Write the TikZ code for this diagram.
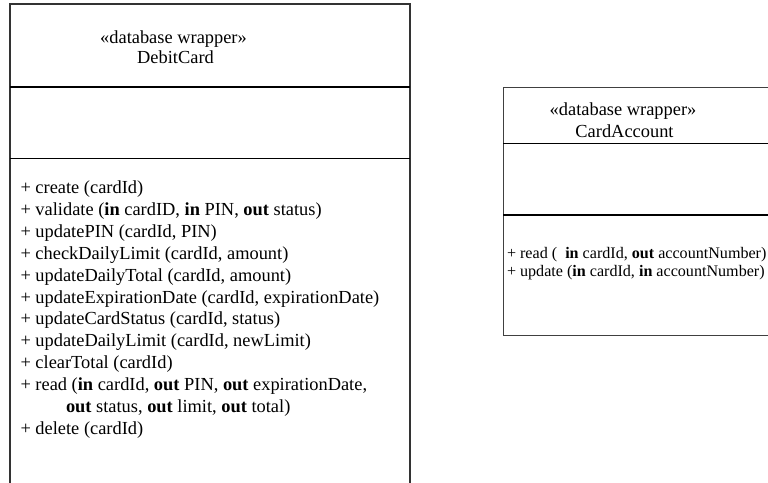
\documentclass[tikz,border=0pt]{standalone}
\usepackage{fontspec}
\setmainfont{Liberation Serif}
\begin{document}
\begin{tikzpicture}[x=1pt,y=-1pt,
  bigtxt/.style={inner sep=0pt, outer sep=0pt, font=\fontsize{18.4}{22}\selectfont},
  optxt/.style={bigtxt, anchor=base west},
  titletxt/.style={bigtxt, anchor=base},
  smallop/.style={inner sep=0pt, outer sep=0pt, anchor=base west, font=\fontsize{16.1}{19}\selectfont},
  border/.style={draw=black!80, line width=1.5pt},
  thinborder/.style={draw=black!75, line width=1pt},
  divider/.style={draw=black, line width=1.8pt},
  thindivider/.style={draw=black, line width=1pt},
  thickdivider/.style={draw=black, line width=2.2pt}]
\useasboundingbox (0,0) rectangle (768,482);
\clip (0,0) rectangle (768,482);
\fill[white] (0,0) rectangle (768,482);

% ---- DebitCard class ----
\draw[border] (10,495) -- (10,4) -- (410,4) -- (410,495);
\draw[divider] (10,87) -- (410,87);
\draw[divider] (10,158.5) -- (410,158.5);

\node[titletxt] (dcstereo) at (173.5,43.3) {«database wrapper»};
\node[titletxt] (dcname) at (175.5,63.3) {DebitCard};

\node[optxt] (op1) at (20.5,193.5) {+ create (cardId)};
\node[optxt] (op2) at (20.5,215.4) {+ validate (\textbf{in} cardID, \textbf{in} PIN, \textbf{out} status)};
\node[optxt] (op3) at (20.5,237.3) {+ updatePIN (cardId, PIN)};
\node[optxt] (op4) at (20.5,259.2) {+ checkDailyLimit (cardId, amount)};
\node[optxt] (op5) at (20.5,281.1) {+ updateDailyTotal (cardId, amount)};
\node[optxt] (op6) at (20.5,303.0) {+ updateExpirationDate (cardId, expirationDate)};
\node[optxt] (op7) at (20.5,324.9) {+ updateCardStatus (cardId, status)};
\node[optxt] (op8) at (20.5,346.8) {+ updateDailyLimit (cardId, newLimit)};
\node[optxt] (op9) at (20.5,368.7) {+ clearTotal (cardId)};
\node[optxt] (op10) at (20.5,390.6) {+ read (\textbf{in} cardId, \textbf{out} PIN, \textbf{out} expirationDate,};
\node[optxt] (op10b) at (66,412.5) {\textbf{out} status, \textbf{out} limit, \textbf{out} total)};
\node[optxt] (op11) at (20.5,434.4) {+ delete (cardId)};

% ---- CardAccount class ----
\draw[thinborder] (790,87) -- (503,87) -- (503,335) -- (790,335);
\draw[thindivider] (503,143) -- (790,143);
\draw[thickdivider] (503,215) -- (790,215);

\node[titletxt] (castereo) at (623,115.5) {«database wrapper»};
\node[titletxt] (caname) at (624.5,137.5) {CardAccount};

\node[smallop] (caop1) at (507,258) {+ read (~ \textbf{in} cardId, \textbf{out} accountNumber)};
\node[smallop] (caop2) at (507,276) {+ update (\textbf{in} cardId, \textbf{in} accountNumber)};
\end{tikzpicture}
\end{document}
